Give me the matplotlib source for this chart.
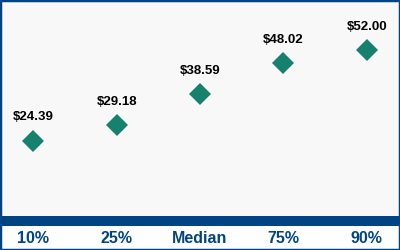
import matplotlib.pyplot as plt
from matplotlib.patches import Rectangle

# data
categories = ['10%', '25%', 'Median', '75%', '90%']
values = [24.39, 29.18, 38.59, 48.02, 52.00]
value_labels = ['$24.39', '$29.18', '$38.59', '$48.02', '$52.00']

navy = '#004484'
teal = '#16826e'

plt.rcParams['font.family'] = ['Liberation Sans', 'DejaVu Sans']

fig = plt.figure(figsize=(4, 2.5), dpi=100, facecolor='white')
ax = fig.add_axes([0, 29 / 250, 1, 221 / 250])
ax.set_facecolor('#f8f8f8')

xs = list(range(len(categories)))
ax.plot(xs, values, linestyle='none', marker='D', markersize=11,
        color=teal, markeredgewidth=0)

for x, v, lab in zip(xs, values, value_labels):
    ax.annotate(lab, (x, v), xytext=(0, 16.8), textcoords='offset points',
                ha='center', va='center', fontsize=9.5, fontweight='bold',
                color='black')

ax.set_xlim(-0.4, 4.4)
ax.set_ylim(0, 67.2)

for s in ['top', 'right', 'left']:
    ax.spines[s].set_visible(False)
ax.spines['bottom'].set_color(navy)
ax.spines['bottom'].set_linewidth(7.2)

ax.set_xticks(xs)
ax.set_xticklabels(categories, fontsize=11.5, fontweight='bold', color=navy)
ax.tick_params(axis='x', length=0, pad=7)
ax.set_yticks([60])
ax.set_yticklabels([])
ax.tick_params(axis='y', length=2, color='#7fa6cc', width=1)

fig.patches.append(Rectangle((0, 0), 1, 1, transform=fig.transFigure,
                             fill=False, edgecolor=navy, linewidth=2.5,
                             zorder=10))

fig.savefig('out.png', dpi=100, facecolor='white')
